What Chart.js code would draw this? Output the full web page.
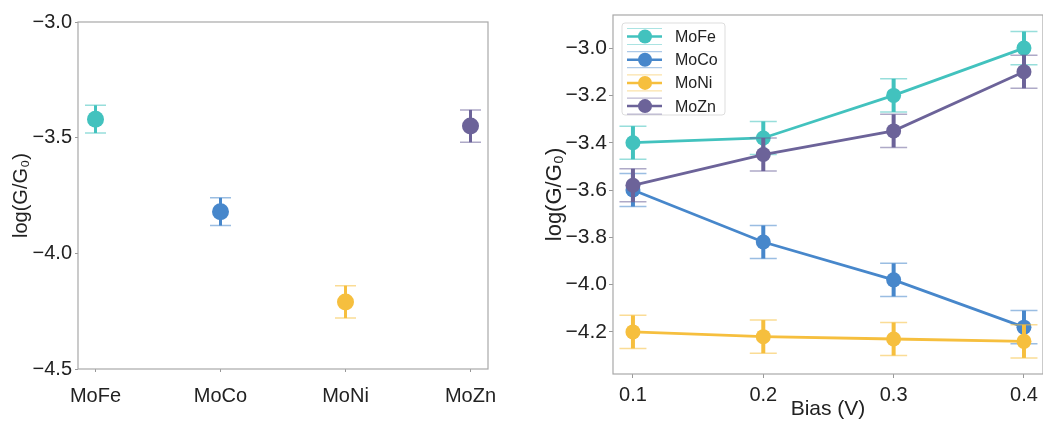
<!DOCTYPE html>
<html>
<head>
<meta charset="utf-8">
<script src="https://cdn.jsdelivr.net/npm/chart.js@4.4.1/dist/chart.umd.min.js"></script>
<style>
  html, body { margin: 0; padding: 0; background: #fff; overflow: hidden; }
  #wrap { position: relative; width: 1043px; height: 421px; overflow: hidden; }
  canvas { position: absolute; top: 0; }
  #chartLeft { left: 0; }
  #chartRight { left: 520px; }
</style>
</head>
<body>
<div id="wrap">
  <canvas id="chartLeft" width="520" height="421"></canvas>
  <canvas id="chartRight" width="540" height="421"></canvas>
</div>
<script>
const samples = ['MoFe', 'MoCo', 'MoNi', 'MoZn'];
const colors = ['#42c2be', '#4787cb', '#f6bf3e', '#6c6399'];

// per-sample conductance (left panel)
const meanLogG = [-3.42, -3.82, -4.21, -3.45];
const errLogG = [0.06, 0.06, 0.07, 0.07];

// conductance vs bias (right panel)
const biasV = [0.1, 0.2, 0.3, 0.4];
const moFe = [-3.40, -3.38, -3.20, -3.00];
const moCo = [-3.60, -3.82, -3.98, -4.18];
const moNi = [-4.20, -4.22, -4.23, -4.24];
const moZn = [-3.58, -3.45, -3.35, -3.10];
const moFeErr = [0.07, 0.07, 0.07, 0.07];
const moCoErr = [0.07, 0.07, 0.07, 0.07];
const moNiErr = [0.07, 0.07, 0.07, 0.07];
const moZnErr = [0.07, 0.07, 0.07, 0.07];

const leftYTicks = [-4.5, -4.0, -3.5, -3.0];
const rightYTicks = [-4.2, -4.0, -3.8, -3.6, -3.4, -3.2, -3.0];
const rightXTicks = [0.1, 0.2, 0.3, 0.4];

const FONT = '"Liberation Sans", Arial, Helvetica, sans-serif';
const yLabel = 'log(G/G\u2080)';

function minusFmt(v, d) {
  return v.toFixed(d).replace('-', '\u2212');
}

function hexAlpha(hex, a) {
  const n = parseInt(hex.slice(1), 16);
  return `rgba(${n >> 16},${(n >> 8) & 255},${n & 255},${a})`;
}

// error bars drawn just before each dataset so the markers sit on top
const errorBars = {
  id: 'errorBars',
  beforeDatasetDraw(chart, args, opts) {
    const ds = chart.data.datasets[args.index];
    if (!ds.errors) return;
    const ctx = chart.ctx;
    const ys = chart.scales.y;
    ctx.save();
    args.meta.data.forEach((pt, i) => {
      const v = ds.data[i].y;
      const top = ys.getPixelForValue(v + ds.errors[i]);
      const bot = ys.getPixelForValue(v - ds.errors[i]);
      ctx.strokeStyle = ds.backgroundColor;
      ctx.lineWidth = opts.stem;
      ctx.beginPath();
      ctx.moveTo(pt.x, top);
      ctx.lineTo(pt.x, bot);
      ctx.stroke();
      ctx.strokeStyle = hexAlpha(ds.backgroundColor, 0.55);
      ctx.lineWidth = opts.capWidth;
      ctx.beginPath();
      ctx.moveTo(pt.x - opts.cap, top);
      ctx.lineTo(pt.x + opts.cap, top);
      ctx.moveTo(pt.x - opts.cap, bot);
      ctx.lineTo(pt.x + opts.cap, bot);
      ctx.stroke();
    });
    ctx.restore();
  }
};

// thin grey box round the plotting area
const frame = {
  id: 'frame',
  afterDraw(chart) {
    const a = chart.chartArea;
    const ctx = chart.ctx;
    ctx.save();
    ctx.strokeStyle = '#a8a8a8';
    ctx.lineWidth = 1.2;
    ctx.strokeRect(a.left, a.top, a.right - a.left, a.bottom - a.top);
    ctx.restore();
  }
};

// legend with line, marker and faint caps, top-left of the right panel
const bigLegend = {
  id: 'bigLegend',
  afterDraw(chart) {
    const ctx = chart.ctx;
    const x0 = 102, y0 = 23, w = 103, h = 92;
    ctx.save();
    ctx.fillStyle = 'rgba(255,255,255,0.85)';
    ctx.strokeStyle = '#dddddd';
    ctx.lineWidth = 1;
    ctx.beginPath();
    ctx.roundRect(x0, y0, w, h, 3);
    ctx.fill();
    ctx.stroke();
    chart.data.datasets.forEach((ds, i) => {
      const cy = 36.5 + i * 23.2;
      ctx.strokeStyle = hexAlpha(ds.borderColor, 0.45);
      ctx.lineWidth = 1.2;
      ctx.beginPath();
      ctx.moveTo(107, cy - 8); ctx.lineTo(142, cy - 8);
      ctx.moveTo(107, cy + 8); ctx.lineTo(142, cy + 8);
      ctx.stroke();
      ctx.strokeStyle = ds.borderColor;
      ctx.lineWidth = 2.5;
      ctx.beginPath();
      ctx.moveTo(107, cy); ctx.lineTo(142, cy);
      ctx.stroke();
      ctx.fillStyle = ds.borderColor;
      ctx.beginPath();
      ctx.arc(125, cy, 7, 0, Math.PI * 2);
      ctx.fill();
      ctx.fillStyle = '#222';
      ctx.font = '16px ' + FONT;
      ctx.textBaseline = 'middle';
      ctx.fillText(ds.label, 155, cy + 1);
    });
    ctx.restore();
  }
};

function axisTicks(size) {
  return { color: '#222', font: { family: FONT, size: size } };
}

// Left panel: one marker per sample
new Chart(document.getElementById('chartLeft'), {
  type: 'scatter',
  data: {
    datasets: samples.map((name, i) => ({
      label: name,
      data: [{ x: i, y: meanLogG[i] }],
      errors: [errLogG[i]],
      backgroundColor: colors[i],
      borderWidth: 0,
      pointRadius: 8.5
    }))
  },
  options: {
    responsive: false,
    animation: false,
    layout: { padding: { top: 22, right: 32, left: 0, bottom: 0 } },
    plugins: {
      legend: { display: false },
      tooltip: { enabled: false },
      errorBars: { stem: 3, cap: 10.5, capWidth: 1.5 }
    },
    scales: {
      x: {
        type: 'linear',
        min: -0.14,
        max: 3.14,
        afterBuildTicks: s => { s.ticks = samples.map((_, i) => ({ value: i })); },
        afterFit: s => { s.height = 52; },
        border: { display: false },
        grid: { drawOnChartArea: false, tickLength: 3, color: '#999' },
        ticks: { ...axisTicks(20), padding: 12, callback: v => samples[v] }
      },
      y: {
        min: -4.5,
        max: -3.0,
        afterBuildTicks: s => { s.ticks = leftYTicks.map(v => ({ value: v })); },
        afterFit: s => { s.width = 78; },
        border: { display: false },
        grid: { drawOnChartArea: false, tickLength: 3, color: '#999' },
        ticks: { ...axisTicks(20), padding: 3, callback: v => minusFmt(v, 1) },
        title: { display: true, text: yLabel, color: '#222', font: { family: FONT, size: 20 }, padding: { top: 9, bottom: 0 } }
      }
    }
  },
  plugins: [errorBars, frame]
});

// Right panel: conductance against bias
const series = [moFe, moCo, moNi, moZn];
const seriesErr = [moFeErr, moCoErr, moNiErr, moZnErr];

new Chart(document.getElementById('chartRight'), {
  type: 'line',
  data: {
    datasets: samples.map((name, i) => ({
      label: name,
      data: biasV.map((b, j) => ({ x: b, y: series[i][j] })),
      errors: seriesErr[i],
      borderColor: colors[i],
      backgroundColor: colors[i],
      borderWidth: 2.8,
      pointRadius: 7.5,
      pointBorderWidth: 0,
      tension: 0,
      order: 3 - i
    }))
  },
  options: {
    responsive: false,
    animation: false,
    layout: { padding: { top: 15, right: 17, left: 0, bottom: 0 } },
    plugins: {
      legend: { display: false },
      tooltip: { enabled: false },
      errorBars: { stem: 4, cap: 13.5, capWidth: 1.5 }
    },
    scales: {
      x: {
        type: 'linear',
        min: 0.0847,
        max: 0.4146,
        afterBuildTicks: s => { s.ticks = rightXTicks.map(v => ({ value: v })); },
        afterFit: s => { s.height = 47; },
        border: { display: false },
        grid: { drawOnChartArea: false, tickLength: 4, color: '#999' },
        ticks: { ...axisTicks(20), padding: 5, callback: v => v.toFixed(1) },
        title: { display: true, text: 'Bias (V)', color: '#222', font: { family: FONT, size: 21, lineHeight: 1 }, padding: { top: 0, bottom: 1 } }
      },
      y: {
        min: -4.378,
        max: -2.86,
        afterBuildTicks: s => { s.ticks = rightYTicks.map(v => ({ value: v })); },
        afterFit: s => { s.width = 93; },
        border: { display: false },
        grid: { drawOnChartArea: false, tickLength: 4, color: '#999' },
        ticks: { ...axisTicks(21), padding: 2, callback: v => minusFmt(v, 1) },
        title: { display: true, text: yLabel, color: '#222', font: { family: FONT, size: 22 }, padding: { top: 22, bottom: 0 } }
      }
    }
  },
  plugins: [errorBars, frame, bigLegend]
});
</script>
</body>
</html>
